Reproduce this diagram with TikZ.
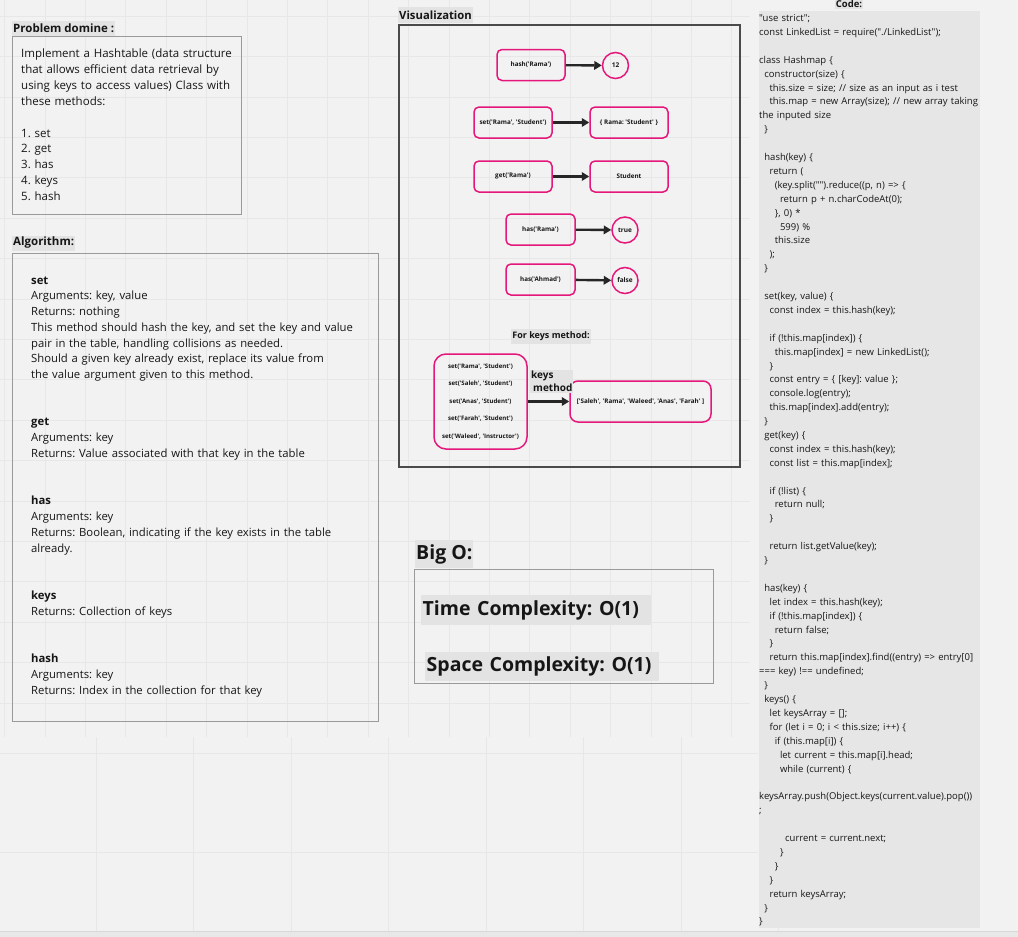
\documentclass[tikz,border=0pt]{standalone}
\usepackage{fontspec}
\setmainfont{Open Sans}[Ligatures=TeXOff]
\usetikzlibrary{arrows.meta}
\definecolor{bgc}{HTML}{F2F2F2}
\definecolor{gridc}{HTML}{E7E7E7}
\definecolor{labc}{HTML}{E3E3E3}
\definecolor{codec}{HTML}{E6E6E6}
\definecolor{mag}{HTML}{E5177B}
\definecolor{boxc}{HTML}{9A9A9A}
\definecolor{vboxc}{HTML}{4A4A4A}
\definecolor{txt}{HTML}{161616}
\definecolor{arrc}{HTML}{262626}
\definecolor{stripc}{HTML}{E8E8E8}
\definecolor{stripline}{HTML}{D8D8D8}
\newlength\indu
\setlength\indu{5.2pt}
\newcommand{\ind}[1]{\hspace*{#1\indu}}
\tikzset{
  lab/.style={fill=labc, text=txt, inner xsep=1pt, inner ysep=0pt},
  vnode/.style={draw=mag, line width=1.5pt, rounded corners=5pt, inner sep=0pt,
    text=txt, font=\fontsize{6.3}{7.5}\selectfont\bfseries},
  vcirc/.style={draw=mag, line width=1.5pt, circle, inner sep=0pt, minimum size=26pt,
    text=txt, font=\fontsize{6.5}{7.5}\selectfont\bfseries},
  arr/.style={draw=arrc, line width=2.4pt, -{Triangle[length=7.5pt,width=8.5pt]}},
  plain/.style={text=txt, inner sep=0pt, align=left, anchor=base west},
  thinbox/.style={draw=boxc, line width=0.9pt},
}
\begin{document}
\frenchspacing
\begin{tikzpicture}[x=1pt,y=-1pt]
\useasboundingbox (0,0) rectangle (1018,937);
\fill[bgc] (0,0) rectangle (1018,937);
% faint board grid
\begin{scope}[gridc, line width=0.7pt]
  \foreach \i in {0,...,18} \draw (4.6+40.4*\i,0) -- ++(0,737);
  \foreach \i in {0,...,17} \draw (0,16.2+40.4*\i) -- ++(750,0);
  \foreach \i in {0,...,7} \draw (96+97.5*\i,737) -- (96+97.5*\i,931);
  \draw (0,753) -- (758,753);
  \draw (0,852) -- (758,852);
\end{scope}
\fill[stripc] (0,931) rectangle (1018,937);
\draw[stripline, line width=0.8pt] (0,931) -- (1018,931);

% ---------------- Problem domain
\node[lab, anchor=west, minimum height=15pt, font=\fontsize{11.5}{13}\selectfont\bfseries] (plab) at (12,28) {Problem domine :};
\draw[thinbox] (12,36) rectangle (241,214);
\node[plain, text width=230pt, font=\fontsize{11.5}{15.9}\selectfont] (prob) at (21,57.5)
{Implement a Hashtable (data structure\\
that allows efficient data retrieval by\\
using keys to access values) Class with\\
these methods:\\
\mbox{}\\
1. set\\
2. get\\
3. has\\
4. keys\\
5. hash};

% ---------------- Algorithm
\node[lab, anchor=west, minimum height=15pt, font=\fontsize{11.5}{13}\selectfont\bfseries] (alab) at (12,243) {Algorithm:};
\draw[thinbox] (12,253) rectangle (378,721);
\node[plain, text width=345pt, font=\fontsize{11.3}{15.77}\selectfont] (algo) at (31,284)
{\textbf{set}\\
Arguments: key, value\\
Returns: nothing\\
This method should hash the key, and set the key and value\\
pair in the table, handling collisions as needed.\\
Should a given key already exist, replace its value from\\
the value argument given to this method.\\
\mbox{}\\
\mbox{}\\
\textbf{get}\\
Arguments: key\\
Returns: Value associated with that key in the table\\
\mbox{}\\
\mbox{}\\
\textbf{has}\\
Arguments: key\\
Returns: Boolean, indicating if the key exists in the table\\
already.\\
\mbox{}\\
\mbox{}\\
\textbf{keys}\\
Returns: Collection of keys\\
\mbox{}\\
\mbox{}\\
\textbf{hash}\\
Arguments: key\\
Returns: Index in the collection for that key};

% ---------------- Visualization
\node[lab, anchor=west, minimum height=16pt, font=\fontsize{11.3}{13}\selectfont\bfseries] (vlab) at (398,15) {Visualization};
\draw[vboxc, line width=1.3pt] (399,25) rectangle (740,467);

\node[vnode, minimum width=68pt, minimum height=31pt] (hashR) at (531,65) {hash('Rama')};
\node[vcirc] (c12) at (615.5,65.5) {12};
\node[vnode, minimum width=78pt, minimum height=31pt] (setR) at (513,122.5) {set('Rama', 'Student')};
\node[vnode, minimum width=78pt, minimum height=31pt] (objR) at (629,122.5) {\{ Rama: 'Student' \}};
\node[vnode, minimum width=78pt, minimum height=31pt] (getR) at (513,176.5) {get('Rama')};
\node[vnode, minimum width=78pt, minimum height=31pt] (stud) at (629,176.5) {Student};
\node[vnode, minimum width=69pt, minimum height=31pt] (hasR) at (540.5,229.5) {has('Rama')};
\node[vcirc] (ctrue) at (625,230) {true};
\node[vnode, minimum width=69pt, minimum height=31pt] (hasA) at (540.5,279.5) {has('Ahmad')};
\node[vcirc] (cfalse) at (625,280.5) {false};

\draw[arr] (hashR) -- (c12);
\draw[arr] (setR) -- (objR);
\draw[arr] (getR) -- (stud);
\draw[arr] (hasR) -- (ctrue);
\draw[arr] (hasA) -- (cfalse);

\node[lab, minimum height=15pt, font=\fontsize{9}{11}\selectfont\bfseries] (fkl) at (551,336) {For keys method:};

\node[vnode, rounded corners=12pt, minimum width=93pt, minimum height=95pt, align=center,
  font=\fontsize{6.1}{17.4}\selectfont\bfseries] (sets) at (480.5,401.5)
{set('Rama', 'Student')\\
set('Saleh', 'Student')\\
set('Anas', 'Student')\\
set('Farah', 'Student')\\
set('Waleed', 'Instructor')};
\node[vnode, rounded corners=8pt, minimum width=141pt, minimum height=41pt] (keysres) at (640.5,401.5)
{['Saleh', 'Rama', 'Waleed', 'Anas', 'Farah' ]};
\draw[arr] (sets) -- (keysres);
\node[lab, anchor=north west, align=left, inner ysep=1pt, minimum width=40pt,
  font=\fontsize{10}{13}\selectfont\bfseries] (kml) at (530,370)
{keys\\\hspace*{2pt}method};

% ---------------- Big O
\node[lab, anchor=west, minimum height=28pt, font=\fontsize{19.5}{22}\selectfont\bfseries] (blab) at (415,554) {Big O:};
\draw[thinbox] (414,569) rectangle (713,683);
\node[lab, anchor=west, minimum height=30pt, text width=227pt, align=left, inner xsep=1.5pt,
  font=\fontsize{19.5}{22}\selectfont\bfseries] (tc) at (421,610) {Time Complexity: O(1)};
\node[lab, anchor=west, minimum height=29pt, text width=231pt, align=left, inner xsep=1.5pt,
  font=\fontsize{19.5}{22}\selectfont\bfseries] (sc) at (425,666.5) {Space Complexity: O(1)};

% ---------------- Code
\fill[codec] (759,10.5) rectangle (980,928);
\node[lab, minimum height=10pt, font=\fontsize{9.5}{11}\selectfont\bfseries] (clab) at (849,4) {Code:};
\node[plain, text width=260pt, font=\fontsize{9.5}{13.9}\selectfont] (code) at (759,21.5)
{"use strict";\\
const LinkedList = require("./LinkedList");\\
\mbox{}\\
class Hashmap \{\\
\ind{1}constructor(size) \{\\
\ind{2}this.size = size; // size as an input as i test\\
\ind{2}this.map = new Array(size); // new array taking\\
the inputed size\\
\ind{1}\}\\
\mbox{}\\
\ind{1}hash(key) \{\\
\ind{2}return (\\
\ind{3}(key.split("").reduce((p, n) => \{\\
\ind{4}return p + n.charCodeAt(0);\\
\ind{3}\}, 0) *\\
\ind{4}599) \%\\
\ind{3}this.size\\
\ind{2});\\
\ind{1}\}\\
\mbox{}\\
\ind{1}set(key, value) \{\\
\ind{2}const index = this.hash(key);\\
\mbox{}\\
\ind{2}if (!this.map[index]) \{\\
\ind{3}this.map[index] = new LinkedList();\\
\ind{2}\}\\
\ind{2}const entry = \{ [key]: value \};\\
\ind{2}console.log(entry);\\
\ind{2}this.map[index].add(entry);\\
\ind{1}\}\\
\ind{1}get(key) \{\\
\ind{2}const index = this.hash(key);\\
\ind{2}const list = this.map[index];\\
\mbox{}\\
\ind{2}if (!list) \{\\
\ind{3}return null;\\
\ind{2}\}\\
\mbox{}\\
\ind{2}return list.getValue(key);\\
\ind{1}\}\\
\mbox{}\\
\ind{1}has(key) \{\\
\ind{2}let index = this.hash(key);\\
\ind{2}if (!this.map[index]) \{\\
\ind{3}return false;\\
\ind{2}\}\\
\ind{2}return this.map[index].find((entry) => entry[0]\\
=== key) !== undefined;\\
\ind{1}\}\\
\ind{1}keys() \{\\
\ind{2}let keysArray = [];\\
\ind{2}for (let i = 0; i < this.size; i++) \{\\
\ind{3}if (this.map[i]) \{\\
\ind{4}let current = this.map[i].head;\\
\ind{4}while (current) \{\\
\mbox{}\\
keysArray.push(Object.keys(current.value).pop())\\
;\\
\mbox{}\\
\ind{5}current = current.next;\\
\ind{4}\}\\
\ind{3}\}\\
\ind{2}\}\\
\ind{2}return keysArray;\\
\ind{1}\}\\
\}};
\end{tikzpicture}
\end{document}
